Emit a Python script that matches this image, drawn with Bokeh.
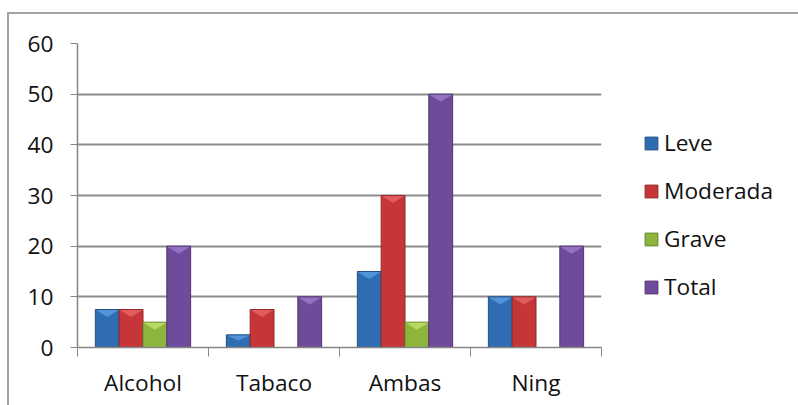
from bokeh.plotting import figure
from bokeh.models import Range1d, FixedTicker, ColumnDataSource, Legend, LegendItem
from bokeh.embed import file_html
from bokeh.resources import INLINE

categories = ["Alcohol", "Tabaco", "Ambas", "Ning"]
series_names = ["Leve", "Moderada", "Grave", "Total"]
leve = [7.5, 2.5, 15, 10]
moderada = [7.5, 7.5, 30, 10]
grave = [5, 0, 5, 0]
total = [20, 10, 50, 20]
y_ticks = [0, 10, 20, 30, 40, 50, 60]

series_values = [leve, moderada, grave, total]
colors = ["#2f6db3", "#c63638", "#8db53d", "#6f4b9b"]
edges = ["#1f4f86", "#922527", "#65862a", "#4f346f"]
bevel = ["#5ea3e6", "#e86a6a", "#c4e76e", "#a07fd0"]

FONT = "Open Sans"
FS = "22.7px"

p = figure(frame_width=524, frame_height=304, x_range=Range1d(0, len(categories)), y_range=Range1d(0, 60),
           output_backend="svg", toolbar_location=None,
           min_border_left=68, min_border_right=197, min_border_top=29, min_border_bottom=58)
p.outline_line_color = None
p.background_fill_color = "white"
p.border_fill_color = "white"
p.styles = {"margin-left": "7px", "margin-top": "12px",
            "border-left": "2px solid #a3a3a3", "border-top": "2px solid #a3a3a3"}

n_series = len(series_names)
slot = 1.0 / (n_series + 1.5)
bevel_depth = 1.5  # in data units (approx 7-8 px)
renderers = []
for k, (name, vals) in enumerate(zip(series_names, series_values)):
    xs = [i + (0.75 + k + 0.5) * slot for i in range(len(categories))]
    src = ColumnDataSource(dict(x=xs, top=vals, cat=categories))
    r = p.vbar(x="x", top="top", bottom=0, width=slot, source=src,
               fill_color=colors[k], line_color=edges[k], line_width=1)
    renderers.append(r)
    px, py = [], []
    for x, v in zip(xs, vals):
        if v <= 0:
            continue
        d = min(bevel_depth, v * 0.45)
        px.append([x - slot / 2 + 0.004, x + slot / 2 - 0.004, x])
        py.append([v - 0.12, v - 0.12, v - d])
    p.patches(px, py, fill_color=bevel[k], fill_alpha=0.75, line_color=None)

# x axis: boundary ticks as minor ticks, category labels at centers
xa = p.xaxis[0]
xa.ticker = FixedTicker(ticks=[i + 0.5 for i in range(len(categories))],
                        minor_ticks=list(range(len(categories) + 1)))
xa.major_label_overrides = {i + 0.5: c for i, c in enumerate(categories)}
xa.major_tick_out = 0
xa.major_tick_in = 0
xa.minor_tick_out = 9
xa.minor_tick_in = 0
xa.minor_tick_line_color = "#868686"
xa.axis_line_color = "#868686"
xa.axis_line_width = 1.5
xa.major_label_text_font = FONT
xa.major_label_text_font_size = FS
xa.major_label_text_color = "#111111"
xa.major_label_standoff = 10

ya = p.yaxis[0]
ya.ticker = FixedTicker(ticks=y_ticks, minor_ticks=[])
ya.major_tick_out = 7
ya.major_tick_in = 0
ya.major_tick_line_color = "#868686"
ya.axis_line_color = "#868686"
ya.axis_line_width = 1.5
ya.major_label_text_font = FONT
ya.major_label_text_font_size = FS
ya.major_label_text_color = "#111111"
ya.major_label_standoff = 17

p.xgrid.grid_line_color = None
p.ygrid.ticker = FixedTicker(ticks=y_ticks)
p.ygrid.grid_line_color = "#8c8c8c"
p.ygrid.grid_line_width = 2

legend = Legend(items=[LegendItem(label=n, renderers=[r]) for n, r in zip(series_names, renderers)],
                location=(42, 45), orientation="vertical",
                label_text_font=FONT, label_text_font_size=FS, label_text_color="#111111",
                glyph_width=16, glyph_height=16, label_standoff=5, label_height=16,
                spacing=17, padding=0, margin=0,
                border_line_color=None, background_fill_alpha=0)
p.add_layout(legend, "right")

open("out.html", "w").write(file_html(p, INLINE))
